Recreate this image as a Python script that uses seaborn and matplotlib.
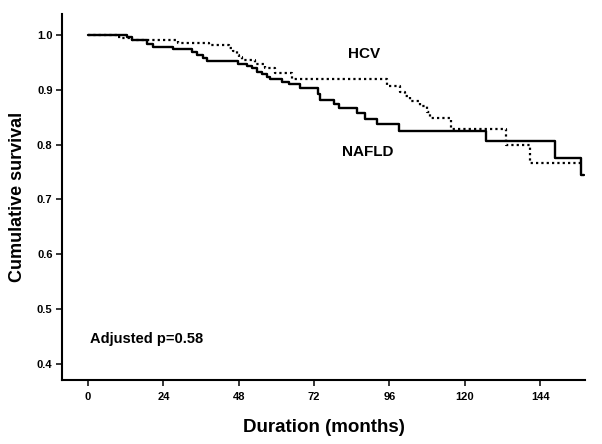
import matplotlib
matplotlib.use("Agg")
import matplotlib.pyplot as plt
import seaborn as sns
import pandas as pd

# Kaplan-Meier step data (months, cumulative survival)
nafld_t = [0, 12.3, 13.9, 18.7, 20.8, 27.1, 33.0, 34.6, 36.7, 37.8, 47.9, 50.6,
           52.2, 53.8, 55.4, 57.0, 58.0, 61.7, 63.9, 67.6, 73.4, 74.0, 78.2,
           79.8, 85.7, 88.3, 92.0, 98.9, 126.9, 148.9, 157.1, 158.1]
nafld_s = [1.0, 0.996, 0.991, 0.984, 0.978, 0.974, 0.969, 0.964, 0.958, 0.952,
           0.948, 0.943, 0.939, 0.933, 0.928, 0.924, 0.919, 0.915, 0.910, 0.903,
           0.893, 0.882, 0.875, 0.866, 0.857, 0.846, 0.837, 0.825, 0.806, 0.776,
           0.745, 0.745]

hcv_t = [0, 9.1, 10.7, 13.9, 28.8, 38.5, 45.0, 46.2, 47.3, 48.2, 49.0, 53.2,
         56.5, 59.6, 65.0, 95.2, 99.5, 101.0, 102.6, 105.8, 108.0, 109.0,
         115.7, 133.2, 140.7, 157.9]
hcv_s = [1.0, 0.996, 0.994, 0.991, 0.986, 0.982, 0.976, 0.970, 0.964, 0.959,
         0.954, 0.948, 0.939, 0.930, 0.919, 0.907, 0.896, 0.888, 0.879, 0.870,
         0.860, 0.848, 0.828, 0.799, 0.767, 0.767]

x_ticks = [0, 24, 48, 72, 96, 120, 144]
y_ticks = [0.4, 0.5, 0.6, 0.7, 0.8, 0.9, 1.0]

sns.set_style("ticks")
plt.rcParams["font.family"] = ["Liberation Sans", "DejaVu Sans"]
plt.rcParams["font.weight"] = "bold"
for key in ["text.color", "axes.labelcolor", "xtick.color", "ytick.color",
            "axes.edgecolor"]:
    plt.rcParams[key] = "black"

nafld = pd.DataFrame({"months": nafld_t, "survival": nafld_s})
hcv = pd.DataFrame({"months": hcv_t, "survival": hcv_s})

fig = plt.figure(figsize=(6.02, 4.44), dpi=100)
ax = fig.add_axes([62.3 / 602, 1 - 379.5 / 444, (585 - 62.3) / 602, (379.5 - 14) / 444])

sns.lineplot(data=hcv, x="months", y="survival", ax=ax, color="black",
             lw=1.6, drawstyle="steps-post", estimator=None,
             linestyle=(0, (1, 1.4)))
sns.lineplot(data=nafld, x="months", y="survival", ax=ax, color="black",
             lw=1.7, drawstyle="steps-post", estimator=None)

ax.set_xlim(-8.2, 158.3)
ax.set_ylim(0.3717, 1.0383)
ax.set_xticks(x_ticks)
ax.set_yticks(y_ticks)
ax.set_xticklabels([str(v) for v in x_ticks], fontsize=8, fontweight="bold")
ax.set_yticklabels([f"{v:.1f}" for v in y_ticks], fontsize=8, fontweight="bold")
ax.tick_params(axis="both", length=4, width=1.1, color="black", pad=3)
ax.tick_params(axis="x", pad=5)

for side in ["left", "bottom"]:
    ax.spines[side].set_linewidth(1.5)
sns.despine(ax=ax)

ax.set_xlabel("Duration (months)", fontsize=13.5, fontweight="bold")
ax.set_ylabel("Cumulative survival", fontsize=13, fontweight="bold")
ax.xaxis.set_label_coords(0.5, -0.13)
ax.xaxis.label.set_va("center")
ax.yaxis.set_label_coords(-0.085, 0.5)
ax.yaxis.label.set_va("center")

ax.text(87.9, 0.965, "HCV", fontsize=11, fontweight="bold", ha="center", va="center")
ax.text(89.2, 0.786, "NAFLD", fontsize=11, fontweight="bold", ha="center", va="center")
ax.text(0.5, 0.446, "Adjusted p=0.58", fontsize=10.5, fontweight="bold",
        ha="left", va="center")

fig.savefig("out.png", dpi=100, facecolor="white")
